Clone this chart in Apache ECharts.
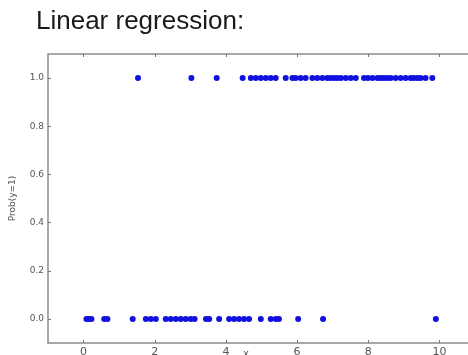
<!DOCTYPE html>
<html>
<head>
<meta charset="utf-8">
<script src="https://cdn.jsdelivr.net/npm/echarts@6/dist/echarts.min.js"></script>
<style>
  html, body { margin: 0; padding: 0; background: #fff; overflow: hidden; }
  #chart { width: 468px; height: 355px; }
</style>
</head>
<body>
<div id="chart"></div>
<script>
const xOnes = [1.53, 3.03, 3.74, 4.47, 4.70, 4.84, 4.98, 5.12, 5.26, 5.40, 5.68,
  5.87, 5.96, 6.10, 6.24, 6.43, 6.57, 6.71, 6.85, 6.94, 7.04, 7.13, 7.23, 7.37, 7.51, 7.65,
  7.88, 7.99, 8.12, 8.26, 8.35, 8.44, 8.54, 8.63, 8.77, 8.91, 9.05, 9.19, 9.28, 9.38, 9.47, 9.61, 9.80];
const xZeros = [0.08, 0.15, 0.22, 0.58, 0.67, 1.38, 1.75, 1.89, 2.03, 2.31, 2.45, 2.59,
  2.73, 2.87, 3.01, 3.12, 3.44, 3.53, 3.81, 4.09, 4.23, 4.37, 4.51, 4.65, 4.98, 5.26, 5.40,
  5.49, 6.03, 6.73, 9.90];
const xTicks = [0, 2, 4, 6, 8, 10];
const yTicks = [0.0, 0.2, 0.4, 0.6, 0.8, 1.0];

const chart = echarts.init(document.getElementById('chart'), null, { renderer: 'canvas' });

const frameColor = '#8c8c8c';
const tickStyle = { show: true, inside: true, length: 3, lineStyle: { color: '#777' } };

chart.setOption({
  backgroundColor: '#fff',
  animation: false,
  title: {
    text: 'Linear regression:',
    left: 31, top: 4,
    textStyle: { fontFamily: 'Liberation Sans', fontSize: 26, fontWeight: 'normal', color: '#1a1a1a' }
  },
  graphic: [{
    type: 'text', left: 243, top: 349,
    style: { text: 'x', fill: '#555', font: '10px DejaVu Sans' }
  }],
  // the frame runs past the right edge of the picture (x = 11 is just outside)
  grid: { left: 48, top: 54, width: 427, bottom: 12, show: true, borderColor: frameColor, borderWidth: 1.5,
    outerBoundsMode: 'none', containLabel: false },
  xAxis: [{
    type: 'value', min: -1, max: 11, interval: 1,
    axisLine: { show: false, onZero: false },
    axisTick: Object.assign({ customValues: xTicks }, tickStyle),
    axisLabel: { margin: 4, fontSize: 11, color: '#555', fontFamily: 'DejaVu Sans', customValues: xTicks },
    splitLine: { show: false }
  }, {
    type: 'value', position: 'top', min: -1, max: 11,
    axisLine: { show: false, onZero: false },
    axisTick: Object.assign({ customValues: xTicks }, tickStyle),
    axisLabel: { show: false },
    splitLine: { show: false }
  }],
  yAxis: {
    type: 'value', min: -0.1, max: 1.1,
    name: 'Prob(y=1)', nameLocation: 'middle', nameGap: 31,
    nameTextStyle: { fontSize: 9, color: '#555', fontFamily: 'DejaVu Sans' },
    axisLine: { show: false, onZero: false },
    axisTick: Object.assign({ customValues: yTicks }, tickStyle),
    axisLabel: { margin: 4, fontSize: 9, color: '#555', fontFamily: 'DejaVu Sans',
      formatter: v => v.toFixed(1), customValues: yTicks },
    splitLine: { show: false }
  },
  series: [{
    type: 'scatter', symbolSize: 6,
    itemStyle: { color: '#1010e0', opacity: 1 },
    data: xOnes.map(x => [x, 1])
  }, {
    type: 'scatter', symbolSize: 6,
    itemStyle: { color: '#1010e0', opacity: 1 },
    data: xZeros.map(x => [x, 0])
  }]
});
</script>
</body>
</html>
